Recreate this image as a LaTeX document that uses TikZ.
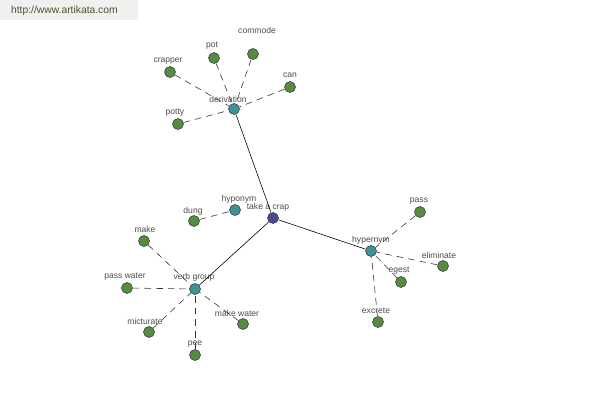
\documentclass[tikz,border=0pt]{standalone}
\usepackage{fontspec}
\setmainfont{Liberation Sans}
\usetikzlibrary{positioning}

\definecolor{leafgreen}{RGB}{84,140,64}
\definecolor{hubteal}{RGB}{62,146,150}
\definecolor{rootblue}{RGB}{72,72,150}
\definecolor{txtgray}{RGB}{75,75,75}
\definecolor{urlgreen}{RGB}{70,84,40}

\begin{document}
\begin{tikzpicture}[
  x=0.03cm, y=-0.03cm,
  dot/.style={circle,draw=black!75,line width=0.5pt,inner sep=0pt,minimum size=0.33cm},
  leaf/.style={dot,fill=leafgreen},
  hub/.style={dot,fill=hubteal},
  root/.style={dot,fill=rootblue},
  lbl/.style={font=\fontsize{7.3}{8}\selectfont,text=txtgray,inner sep=0.5pt},
  tie/.style={line width=0.5pt,black},
  rel/.style={line width=0.5pt,black!80,dash pattern=on 0.2cm off 0.15cm}
]
  \useasboundingbox (0,0) rectangle (600,400);
  % url banner
  \fill[black!6] (0,0) rectangle (138,20);
  \node[font=\fontsize{8.8}{10}\selectfont,text=urlgreen,anchor=west] (url) at (7,11) {http://www.artikata.com};
  % Root and hubs
  \node[root] (crap) at (273,218) {};
  \node[hub] (deriv) at (234,109) {};
  \node[hub] (hypo) at (235,210) {};
  \node[hub] (hyper) at (371,251) {};
  \node[hub] (verb) at (195,289) {};
  % Leaves
  \node[leaf] (commode) at (253,54) {};
  \node[leaf] (pot) at (214,58) {};
  \node[leaf] (crapper) at (170,72) {};
  \node[leaf] (can) at (290,87) {};
  \node[leaf] (potty) at (178,124) {};
  \node[leaf] (dung) at (194,221) {};
  \node[leaf] (pass) at (420,212) {};
  \node[leaf] (elim) at (443,266) {};
  \node[leaf] (egest) at (401,282) {};
  \node[leaf] (excrete) at (378,322) {};
  \node[leaf] (make) at (144,241) {};
  \node[leaf] (passw) at (127,288) {};
  \node[leaf] (mict) at (149,332) {};
  \node[leaf] (pee) at (195,355) {};
  \node[leaf] (makew) at (243,324) {};
  % Labels
  \node[lbl] (l-crap) at (268,207) {take a crap};
  \node[lbl] (l-deriv) at (228,99) {derivation};
  \node[lbl] (l-hypo) at (239,199) {hyponym};
  \node[lbl] (l-hyper) at (371,240) {hypernym};
  \node[lbl] (l-verb) at (194,277) {verb group};
  \node[lbl] (l-commode) at (257,30) {commode};
  \node[lbl] (l-pot) at (212,46) {pot};
  \node[lbl] (l-crapper) at (168,61) {crapper};
  \node[lbl] (l-can) at (290,75) {can};
  \node[lbl] (l-potty) at (175,113) {potty};
  \node[lbl] (l-dung) at (193,211) {dung};
  \node[lbl] (l-pass) at (419,201) {pass};
  \node[lbl] (l-elim) at (439,255) {eliminate};
  \node[lbl] (l-egest) at (399,271) {egest};
  \node[lbl] (l-excrete) at (376,311) {excrete};
  \node[lbl] (l-make) at (145,229) {make};
  \node[lbl] (l-passw) at (125,277) {pass water};
  \node[lbl] (l-mict) at (145,321) {micturate};
  \node[lbl] (l-pee) at (195,344) {pee};
  \node[lbl] (l-makew) at (237,313) {make water};
  % Solid ties
  \draw[tie] (crap) -- (deriv);
  \draw[tie] (crap) -- (hyper);
  \draw[tie] (crap) -- (verb);
  % Dashed relations
  \foreach \l in {commode,pot,crapper,can,potty}
    \draw[rel] (\l) -- (deriv);
  \draw[rel] (dung) -- (hypo);
  \foreach \l in {pass,elim,egest,excrete}
    \draw[rel] (\l) -- (hyper);
  \foreach \l in {make,passw,mict,pee,makew}
    \draw[rel] (\l) -- (verb);
\end{tikzpicture}
\end{document}
